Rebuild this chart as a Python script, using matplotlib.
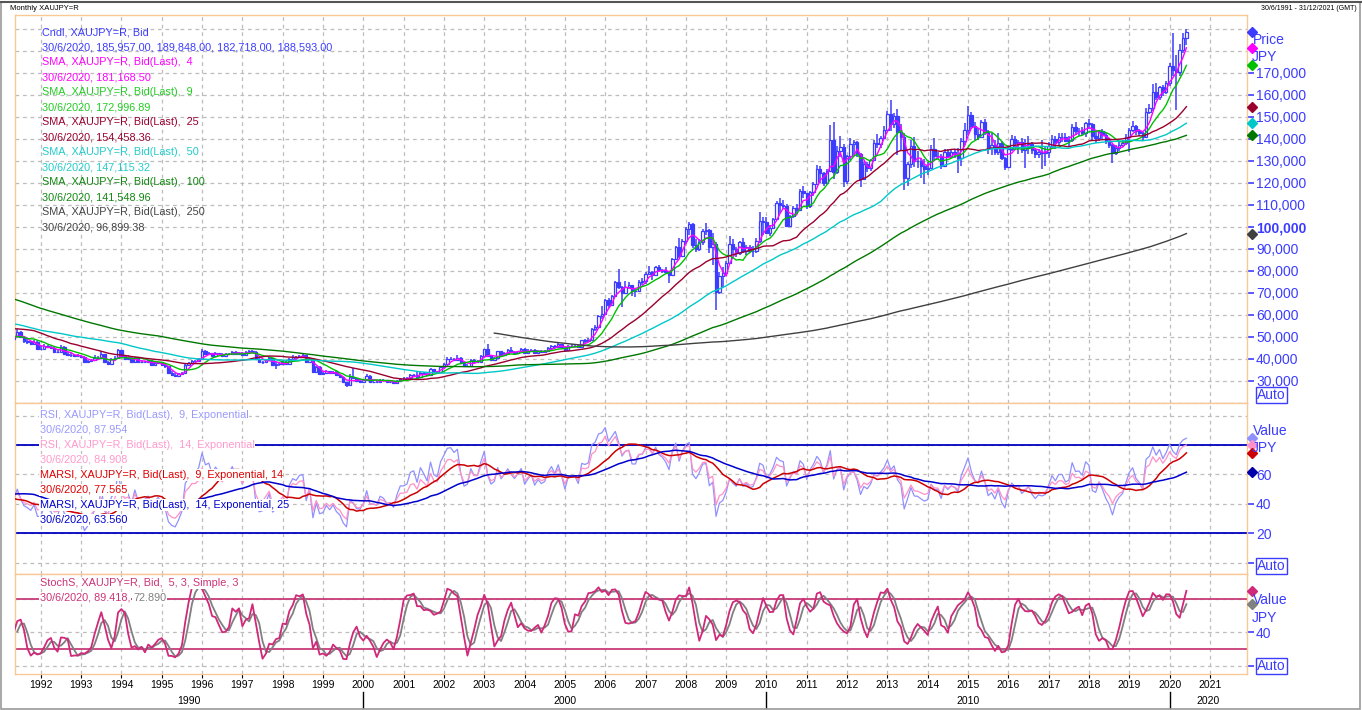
import numpy as np
import pandas as pd
import matplotlib
matplotlib.use("Agg")
import matplotlib.pyplot as plt
import matplotlib.transforms as mtransforms
from matplotlib.patches import Rectangle
from matplotlib.lines import Line2D

plt.rcParams['font.family'] = ['Liberation Sans', 'DejaVu Sans']

# monthly gold price in yen, thousands of JPY per oz (month end), Jul 1982 on
close_80s = [87.0, 106.0, 106.0, 115.0, 103.0, 105.0,
             115.0, 97.6, 99.0, 102.0, 105.0, 99.0, 102.0, 102.0, 95.6, 89.0, 95.0, 88.6,
             86.6, 92.0, 89.0, 85.0, 89.0, 89.0, 84.5, 84.0, 84.0, 82.0, 83.0, 77.6,
             77.5, 77.5, 83.0, 80.0, 79.0, 79.0, 77.5, 79.0, 70.5, 68.6, 65.7, 65.4,
             67.0, 61.0, 61.8, 58.0, 59.0, 56.6, 55.0, 59.7, 65.0, 65.0, 62.0, 62.6,
             62.0, 62.0, 61.3, 63.7, 65.0, 66.0, 69.0, 64.3, 67.0, 64.6, 65.4, 59.5,
             58.0, 54.5, 56.7, 56.0, 57.0, 57.7, 58.0, 58.8, 53.2, 51.5, 51.5, 51.3,
             51.2, 49.1, 51.0, 50.0, 52.0, 53.7, 50.6, 52.0, 51.0, 54.0, 58.3, 57.3,
             60.3, 61.2, 58.0, 58.4, 55.2, 53.5, 54.7, 55.7, 56.3, 49.0, 51.0, 52.0]
close_90s = [48.0, 48.3, 49.7, 49.0, 50.3, 52.0, 49.8, 48.0, 47.5, 46.8, 47.6, 44.6,
             44.6, 45.9, 45.3, 44.8, 43.1, 43.2, 45.3, 42.2, 41.9, 41.7, 41.3, 41.3,
             40.9, 38.4, 38.8, 39.4, 40.1, 40.1, 42.1, 38.7, 37.6, 39.9, 40.4, 43.8,
             41.1, 40.0, 40.3, 38.4, 40.6, 38.3, 38.4, 38.6, 39.0, 37.2, 37.9, 38.3,
             37.1, 36.5, 33.7, 32.7, 32.3, 32.9, 33.7, 37.2, 38.0, 39.1, 39.1, 39.9,
             43.3, 42.0, 42.4, 41.2, 42.5, 42.0, 41.2, 42.2, 42.1, 43.2, 42.3, 42.8,
             41.7, 43.0, 43.3, 43.2, 40.0, 38.4, 38.5, 39.3, 40.2, 37.3, 37.6, 37.7,
             38.5, 37.4, 40.0, 40.9, 40.7, 41.4, 41.5, 38.5, 40.0, 33.9, 36.2, 33.1,
             33.3, 34.4, 33.3, 34.0, 32.4, 31.6, 29.3, 27.9, 31.7, 31.1, 29.7, 29.6,
             30.3, 32.2, 29.6, 29.6, 29.4, 30.5, 30.2, 29.4, 29.5, 28.8, 30.0, 31.0]
close_00s = [31.0, 31.2, 32.5, 32.7, 31.8, 33.6, 33.1, 32.5, 35.2, 34.0, 33.8, 36.3,
             37.8, 39.8, 40.0, 39.6, 40.4, 38.2, 36.6, 36.9, 39.5, 38.7, 38.7, 41.3,
             44.2, 41.1, 39.6, 40.1, 43.3, 41.5, 42.6, 43.9, 43.1, 42.5, 43.4, 44.5,
             42.4, 43.3, 44.1, 42.7, 43.6, 43.1, 43.4, 44.8, 45.8, 45.1, 46.6, 45.5,
             43.9, 45.7, 45.8, 45.8, 45.1, 48.3, 48.2, 48.5, 53.4, 54.5, 59.5, 60.5,
             66.5, 64.5, 68.7, 74.7, 72.7, 69.9, 72.8, 73.5, 70.7, 70.7, 74.9, 75.2,
             78.7, 79.3, 78.2, 81.6, 80.4, 80.0, 79.3, 78.1, 85.4, 90.7, 86.9, 93.4,
             98.8, 101.1, 91.6, 89.9, 93.0, 98.2, 98.6, 90.6, 92.3, 70.4, 77.4, 78.8,
             83.5, 92.3, 89.9, 88.2, 93.0, 89.0, 90.7, 88.8, 89.1, 93.6, 102.8, 102.0,
             97.3, 99.3, 103.5, 110.9, 109.8, 109.5, 100.5, 104.7, 108.5, 107.7, 116.4, 115.1]
close_10s = [109.3, 115.6, 119.4, 126.0, 124.4, 120.0, 125.4, 139.6, 124.7, 134.3, 136.3, 120.6,
             132.1, 137.5, 138.5, 133.1, 121.8, 128.3, 126.5, 130.2, 138.2, 137.5, 140.5, 144.1,
             151.4, 146.8, 150.2, 143.2, 140.7, 122.2, 128.6, 136.8, 130.0, 129.7, 127.8, 126.2,
             126.9, 135.3, 132.3, 132.2, 127.5, 134.0, 132.0, 133.8, 133.1, 131.3, 138.9, 143.9,
             150.9, 145.6, 142.0, 140.8, 147.6, 143.0, 135.8, 137.3, 133.8, 138.2, 131.0, 127.3,
             135.3, 139.9, 138.1, 138.4, 134.9, 136.2, 137.8, 134.8, 132.9, 134.1, 133.7, 134.1,
             136.8, 139.9, 138.6, 140.7, 140.7, 139.1, 139.6, 145.2, 143.4, 143.6, 142.8, 147.2,
             146.6, 141.0, 140.5, 143.3, 141.5, 139.0, 137.1, 133.3, 135.9, 137.3, 138.1, 140.9,
             144.0, 145.7, 143.4, 142.5, 140.9, 152.2, 154.0, 161.1, 159.0, 163.4, 161.0, 165.4,
             173.2, 171.2, 170.3, 180.5, 185.957, 188.593]

# monthly highs / lows, Oct 1990 on
high_90s = [57.0, 52.0, 53.0,
            53.5, 50.0, 50.3, 50.4, 51.0, 53.3, 52.4, 50.2, 48.9, 48.2, 48.3, 47.9,
            46.0, 46.5, 46.3, 45.8, 45.2, 44.0, 46.2, 45.6, 43.0, 42.6, 42.3, 42.0,
            41.8, 41.2, 39.5, 40.0, 41.5, 41.3, 43.5, 42.3, 39.0, 40.5, 41.2, 44.2,
            44.0, 41.5, 41.0, 40.6, 40.9, 40.8, 39.2, 39.0, 39.5, 39.3, 38.4, 38.6,
            38.5, 37.4, 36.8, 34.2, 33.5, 33.3, 34.0, 37.5, 38.5, 39.5, 39.6, 40.2,
            44.2, 43.8, 42.9, 42.8, 43.0, 42.8, 42.4, 42.6, 42.7, 43.6, 43.5, 43.2,
            43.2, 43.5, 44.0, 43.8, 43.4, 40.3, 39.0, 39.8, 40.6, 40.5, 38.4, 38.3,
            39.2, 38.8, 40.3, 41.8, 41.4, 41.9, 42.0, 41.8, 40.5, 40.3, 36.8, 36.5,
            34.0, 34.9, 34.6, 34.5, 34.2, 32.6, 31.8, 29.6, 33.0, 35.6, 31.4, 30.3,
            30.6, 33.0, 32.5, 30.2, 30.0, 30.8, 30.7, 30.4, 29.9, 29.7, 30.3, 31.3]
low_90s = [48.5, 48.6, 50.5,
           47.0, 47.2, 47.8, 48.4, 48.6, 50.0, 49.4, 47.2, 46.6, 46.1, 46.3, 44.2,
           43.9, 44.2, 44.8, 44.2, 42.7, 42.5, 42.9, 41.8, 41.3, 41.0, 40.7, 40.8,
           40.3, 38.0, 37.9, 38.3, 39.0, 39.5, 39.8, 38.2, 37.0, 37.4, 39.3, 40.2,
           40.5, 39.6, 39.7, 38.0, 38.2, 38.0, 37.9, 38.0, 38.3, 37.0, 37.0, 37.6,
           36.8, 36.0, 33.2, 32.0, 31.6, 31.8, 32.6, 33.5, 36.8, 37.7, 38.6, 38.8,
           39.7, 41.6, 41.7, 40.8, 41.0, 41.7, 40.9, 41.0, 41.6, 41.8, 42.0, 41.9,
           41.2, 41.3, 42.5, 42.6, 39.7, 38.0, 37.8, 38.2, 39.0, 37.0, 35.2, 36.6,
           37.2, 37.0, 37.2, 39.7, 40.0, 40.2, 40.8, 38.2, 38.0, 33.5, 33.6, 32.8,
           32.6, 32.9, 33.0, 32.9, 32.1, 31.3, 29.0, 27.2, 27.8, 30.6, 29.4, 29.2,
           29.3, 29.9, 29.3, 29.2, 29.0, 29.2, 30.0, 29.2, 29.1, 28.6, 28.7, 29.8]
high_00s = [31.6, 31.7, 32.9, 33.2, 33.9, 33.9, 34.0, 33.4, 35.8, 35.5, 34.4, 36.6,
            38.1, 40.6, 40.9, 40.5, 41.5, 40.8, 38.6, 37.5, 40.0, 39.8, 39.2, 41.6,
            44.6, 46.6, 41.6, 40.6, 43.7, 43.6, 42.9, 44.2, 45.5, 43.6, 43.7, 44.8,
            45.0, 44.4, 44.6, 44.5, 43.9, 43.9, 43.8, 45.2, 46.2, 46.3, 47.3, 46.8,
            45.8, 46.1, 46.5, 46.5, 46.1, 48.6, 48.8, 49.3, 53.8, 55.5, 60.0, 64.0,
            67.3, 67.6, 69.0, 75.2, 80.6, 73.0, 75.5, 74.8, 73.6, 71.9, 75.8, 76.8,
            79.3, 82.1, 79.8, 82.0, 82.4, 81.0, 81.5, 79.6, 85.9, 91.3, 94.8, 94.2,
            99.8, 102.3, 101.6, 94.5, 94.4, 98.8, 101.5, 99.1, 97.0, 92.9, 79.5, 81.5,
            84.4, 95.8, 94.6, 91.0, 93.7, 94.8, 91.6, 91.5, 91.2, 95.0, 106.5, 104.6,
            104.2, 100.6, 104.1, 111.8, 113.2, 112.0, 110.2, 105.3, 109.2, 110.4, 117.3, 118.6]
low_00s = [30.5, 30.7, 30.9, 32.0, 31.5, 31.6, 32.8, 32.2, 32.3, 33.7, 33.4, 33.6,
           36.1, 37.6, 39.3, 39.2, 39.3, 38.0, 36.2, 36.2, 36.7, 38.5, 38.3, 38.5,
           41.0, 40.8, 39.2, 39.2, 39.9, 41.2, 41.2, 42.3, 42.8, 42.2, 42.0, 43.1,
           42.0, 42.0, 43.0, 42.2, 42.4, 42.8, 42.7, 43.1, 44.4, 44.8, 44.9, 45.1,
           43.6, 43.6, 45.1, 45.2, 44.8, 45.0, 47.2, 47.7, 48.2, 52.5, 54.2, 58.2,
           60.2, 63.2, 63.8, 68.4, 71.5, 63.5, 69.5, 71.7, 68.6, 67.9, 70.3, 73.4,
           73.9, 78.0, 75.8, 77.9, 79.4, 78.8, 78.9, 74.5, 77.7, 84.9, 85.7, 86.4,
           92.3, 96.2, 90.4, 88.6, 88.9, 91.7, 96.3, 87.9, 82.8, 62.0, 69.6, 72.6,
           77.5, 82.9, 87.2, 86.1, 87.2, 88.1, 87.3, 88.0, 86.3, 88.2, 92.5, 96.4,
           96.6, 95.6, 98.9, 103.0, 106.3, 108.2, 99.8, 100.1, 104.0, 105.6, 107.0, 113.2]
high_10s = [115.5, 116.1, 120.4, 128.0, 127.4, 125.0, 126.4, 146.0, 147.6, 136.8, 141.2, 137.5,
            132.6, 140.5, 139.4, 139.0, 133.6, 129.5, 129.6, 130.8, 139.5, 142.0, 141.3, 145.7,
            152.8, 157.6, 151.6, 153.5, 146.5, 142.5, 129.5, 139.5, 140.6, 134.5, 131.2, 130.8,
            129.5, 137.0, 140.5, 134.0, 133.0, 135.1, 135.5, 135.0, 135.2, 135.6, 140.2, 147.2,
            154.8, 152.0, 147.4, 145.0, 148.3, 148.8, 144.0, 142.5, 139.5, 142.5, 138.8, 131.7,
            136.0, 141.8, 141.0, 139.6, 140.2, 140.0, 141.0, 138.3, 135.6, 135.2, 139.4, 136.5,
            138.5, 141.6, 141.2, 142.5, 142.8, 142.8, 141.4, 146.5, 147.6, 145.0, 145.2, 147.6,
            149.0, 147.3, 143.2, 144.0, 144.2, 142.5, 140.1, 137.6, 137.0, 139.0, 139.2, 142.0,
            144.8, 148.0, 146.1, 144.2, 143.2, 153.8, 155.9, 165.0, 165.4, 164.0, 164.2, 166.0,
            174.6, 188.0, 178.0, 183.0, 188.0, 189.848]
low_10s = [108.0, 108.7, 113.8, 118.8, 119.8, 118.5, 119.6, 124.8, 121.6, 124.0, 131.8, 117.9,
           119.5, 130.4, 132.0, 131.6, 118.0, 121.2, 124.9, 125.5, 129.8, 135.6, 135.7, 139.7,
           143.6, 143.3, 145.0, 132.8, 134.3, 116.6, 118.5, 126.5, 127.3, 126.6, 122.3, 119.2,
           123.7, 126.3, 130.5, 130.6, 126.1, 127.0, 131.0, 131.2, 131.4, 124.5, 127.4, 137.2,
           141.9, 144.2, 139.6, 139.3, 140.2, 141.6, 133.2, 132.6, 132.7, 132.5, 130.2, 125.6,
           126.8, 134.4, 135.6, 133.2, 133.7, 126.5, 133.2, 133.0, 131.0, 131.4, 126.4, 127.7,
           131.2, 136.0, 135.4, 136.6, 138.6, 138.5, 136.6, 138.3, 141.8, 141.3, 141.6, 140.6,
           144.5, 138.9, 138.2, 139.0, 140.0, 137.7, 135.7, 128.8, 132.6, 134.5, 136.0, 137.0,
           133.9, 143.2, 141.6, 141.0, 139.6, 140.3, 151.0, 152.8, 157.7, 157.8, 159.5, 160.5,
           163.8, 168.5, 153.0, 168.6, 178.8, 182.718]

sma_periods = [4, 9, 25, 50, 100, 250]
sma_colors = ['#ff00ff', '#00c000', '#99002e', '#00c8c8', '#007800', '#404040']

main_legend = [
    ("Cndl, XAUJPY=R, Bid", '#3c3cff'),
    ("30/6/2020, 185,957.00, 189,848.00, 182,718.00, 188,593.00", '#3c3cff'),
    ("SMA, XAUJPY=R, Bid(Last),  4", '#ff00ff'), ("30/6/2020, 181,168.50", '#ff00ff'),
    ("SMA, XAUJPY=R, Bid(Last),  9", '#22cc22'), ("30/6/2020, 172,996.89", '#22cc22'),
    ("SMA, XAUJPY=R, Bid(Last),  25", '#99002e'), ("30/6/2020, 154,458.36", '#99002e'),
    ("SMA, XAUJPY=R, Bid(Last),  50", '#22cccc'), ("30/6/2020, 147,115.32", '#22cccc'),
    ("SMA, XAUJPY=R, Bid(Last),  100", '#118811'), ("30/6/2020, 141,548.96", '#118811'),
    ("SMA, XAUJPY=R, Bid(Last),  250", '#444444'), ("30/6/2020, 96,899.38", '#444444'),
]
rsi_legend = [
    ("RSI, XAUJPY=R, Bid(Last),  9, Exponential", '#9999ff'), ("30/6/2020, 87.954", '#9999ff'),
    ("RSI, XAUJPY=R, Bid(Last),  14, Exponential", '#ff99cc'), ("30/6/2020, 84.908", '#ff99cc'),
    ("MARSI, XAUJPY=R, Bid(Last),  9, Exponential, 14", '#dd0000'), ("30/6/2020, 77.565", '#dd0000'),
    ("MARSI, XAUJPY=R, Bid(Last),  14, Exponential, 25", '#0000cc'), ("30/6/2020, 63.560", '#0000cc'),
]

years = list(range(1992, 2022))
decades = [("1990", 1995.68), ("2000", 2005.0), ("2010", 2015.0), ("2020", 2020.96)]

BLUE = '#3c3cff'
ORANGE = '#f8c898'
GRID = '#bdbdbd'

# ---- series ----
close = np.array(close_80s + close_90s + close_00s + close_10s) * 1000
n = len(close)
t = 1982.5 + np.arange(n) / 12.0
hl_start = n - len(high_90s + high_00s + high_10s)
high = np.full(n, np.nan)
low = np.full(n, np.nan)
high[hl_start:] = np.array(high_90s + high_00s + high_10s) * 1000
low[hl_start:] = np.array(low_90s + low_00s + low_10s) * 1000

s = pd.Series(close)
smas = [s.rolling(p).mean() for p in sma_periods]


def rsi(series, p):
    d = series.diff()
    up = d.clip(lower=0).ewm(alpha=1.0 / p, adjust=False).mean()
    dn = (-d.clip(upper=0)).ewm(alpha=1.0 / p, adjust=False).mean()
    return 100 - 100 / (1 + up / dn)


rsi9 = rsi(s, 9)
rsi14 = rsi(s, 14)
marsi9 = rsi9.rolling(14).mean()
marsi14 = rsi14.rolling(25).mean()

hh = pd.Series(high).rolling(5).max()
ll = pd.Series(low).rolling(5).min()
fast_k = (s - ll) / (hh - ll) * 100
slow_k = fast_k.rolling(3).mean()
slow_d = slow_k.rolling(3).mean()

# ---- figure ----
W, H = 1362, 710
fig = plt.figure(figsize=(W / 100, H / 100), dpi=100)


def box(top, bottom):
    return [15 / W, 1 - bottom / H, 1232 / W, (bottom - top) / H]


def fxy(px, py):
    return px / W, 1 - py / H


ax_p = fig.add_axes(box(15, 403))
ax_r = fig.add_axes(box(403, 574), sharex=ax_p)
ax_s = fig.add_axes(box(574, 674), sharex=ax_p)

for ax in (ax_p, ax_r, ax_s):
    for sp in ax.spines.values():
        sp.set_color(ORANGE)
        sp.set_linewidth(1)
    ax.yaxis.tick_right()
    ax.tick_params(axis='y', which='major', colors=BLUE, length=5, width=1.2, pad=1.5, labelsize=10)
    ax.tick_params(axis='y', which='minor', length=0)
    ax.set_xticks(years)
    ax.grid(True, which='both', color=GRID, linestyle=(0, (3, 3)), linewidth=0.9)
    ax.set_axisbelow(True)
ax_p.set_xlim(1991.36, 2021.92)
for ax in (ax_p, ax_r):
    ax.tick_params(axis='x', length=0, labelbottom=False)

# price panel
ax_p.set_ylim(19864, 196227)
ticks_p = list(range(30000, 180000, 10000))
ax_p.set_yticks(ticks_p)
ax_p.set_yticklabels([f"{v:,}" for v in ticks_p])
ax_p.set_yticks([20000, 180000, 190000], minor=True)
for lab in ax_p.get_yticklabels():
    if lab.get_text() == "100,000":
        lab.set_fontweight('bold')

ci = np.arange(hl_start, n)
o = close[ci - 1]
c = close[ci]
up = c >= o
ax_p.vlines(t[ci], low[ci], high[ci], color=BLUE, linewidth=1.1, zorder=2)
ax_p.bar(t[ci][up], (c - o)[up], bottom=o[up], width=0.06, facecolor='white',
         edgecolor=BLUE, linewidth=0.9, zorder=3)
ax_p.bar(t[ci][~up], (o - c)[~up], bottom=c[~up], width=0.06, facecolor=BLUE,
         edgecolor=BLUE, linewidth=0.9, zorder=3)
for ser, col in zip(smas, sma_colors):
    ax_p.plot(t, ser, color=col, linewidth=1.0, zorder=4)

# rsi panel
ax_r.set_ylim(-7.7, 108.6)
ax_r.set_yticks([0, 20, 40, 60])
ax_r.set_yticklabels(['', '20', '40', '60'])
ax_r.set_yticks([80, 100], minor=True)
ax_r.axhline(80, color='#0000c0', linewidth=1.3, zorder=2)
ax_r.axhline(20, color='#0000c0', linewidth=1.3, zorder=2)
ax_r.plot(t, rsi9, color='#9090ff', linewidth=0.9, zorder=3)
ax_r.plot(t, rsi14, color='#ff90c8', linewidth=0.9, zorder=3)
ax_r.plot(t, marsi9, color='#cc0000', linewidth=1.1, zorder=4)
ax_r.plot(t, marsi14, color='#0000cc', linewidth=1.1, zorder=4)

# stochastic panel
ax_s.set_ylim(-10, 110)
ax_s.set_yticks([0, 40])
ax_s.set_yticklabels(['', '40'])
ax_s.set_yticks([80], minor=True)
ax_s.axhline(80, color='#c83c78', linewidth=1.3, zorder=2)
ax_s.axhline(20, color='#c83c78', linewidth=1.3, zorder=2)
ax_s.plot(t, slow_d, color='#808080', linewidth=1.3, zorder=3)
ax_s.plot(t, slow_k, color='#d0287a', linewidth=1.3, zorder=4)
ax_s.set_xticklabels([str(y) for y in years])
ax_s.tick_params(axis='x', length=3, width=0.8, color='black', pad=1.5, labelsize=7.5)

# decade row under the years
bt = mtransforms.blended_transform_factory(ax_s.transData, ax_s.transAxes)
for lab, xd in decades:
    ax_s.text(xd, -0.27, lab, transform=bt, ha='center', va='center', fontsize=7.5)
for xd in (2000, 2010, 2020):
    ax_s.plot([xd, xd], [-0.18, -0.34], transform=bt, color='black', linewidth=1, clip_on=False)

# last-value diamonds on the right edge
def diamonds(ax, vals, cols):
    tr = mtransforms.blended_transform_factory(ax.transAxes, ax.transData)
    for v, col in zip(vals, cols):
        ax.plot([1.0041], [v], marker='D', markersize=5, color=col, transform=tr,
                clip_on=False, zorder=6)


diamonds(ax_p, [close[-1]] + [ser.iloc[-1] for ser in smas], [BLUE] + sma_colors)
diamonds(ax_r, [rsi9.iloc[-1], rsi14.iloc[-1], marsi9.iloc[-1], marsi14.iloc[-1]],
         ['#9090ff', '#ff90c8', '#cc0000', '#0000aa'])
diamonds(ax_s, [slow_k.iloc[-1], slow_d.iloc[-1]], ['#d0287a', '#808080'])

# right side captions
for txt, px, py in [("Price", 1253, 40), ("JPY", 1252, 57), ("Value", 1253, 431),
                    ("JPY", 1252, 448), ("Value", 1253, 600), ("JPY", 1252, 618)]:
    fig.text(*fxy(px, py), txt, color=BLUE, fontsize=10, va='center', ha='left')
for py in (395, 566, 666):
    fig.text(*fxy(1257, py), "Auto", color=BLUE, fontsize=10, va='center', ha='left',
             bbox=dict(facecolor='white', edgecolor=BLUE, pad=1.0, linewidth=1))

# legends
for i, (txt, col) in enumerate(main_legend):
    fig.text(*fxy(42.5, 32.3 + 15 * i), txt, color=col, fontsize=7.8, va='center')
for i, (txt, col) in enumerate(rsi_legend):
    fig.text(*fxy(39.5, 415 + 15 * i), txt, color=col, fontsize=7.8, va='center',
             bbox=dict(facecolor='white', edgecolor='none', pad=0.5), zorder=5)
fig.text(*fxy(39.5, 583), "StochS, XAUJPY=R, Bid,  5, 3, Simple, 3", color='#cc3377',
         fontsize=7.8, va='center', bbox=dict(facecolor='white', edgecolor='none', pad=0.5), zorder=5)
st2 = fig.text(*fxy(39.5, 598), "30/6/2020, 89.418,", color='#cc3377', fontsize=7.8,
               va='center', bbox=dict(facecolor='white', edgecolor='none', pad=0.5), zorder=5)
fig.canvas.draw()
ext = st2.get_window_extent()
fig.text((ext.x1 + 3) / W, 1 - 598 / H, "72.890", color='#808080', fontsize=7.8, va='center',
         bbox=dict(facecolor='white', edgecolor='none', pad=0.5), zorder=5)

# header and outer frame
fig.text(*fxy(10, 8), "Monthly XAUJPY=R", fontsize=5.5, va='center')
fig.text(*fxy(1357, 8), "30/6/1991 - 31/12/2021 (GMT)", fontsize=5, va='center', ha='right')
fig.add_artist(Rectangle((1 / W, 1.5 / H), (W - 3) / W, (H - 3) / H, transform=fig.transFigure,
                         fill=False, edgecolor='#9a9a9a', linewidth=1.2))
fig.add_artist(Line2D([0, 1], [1 - 2 / H, 1 - 2 / H], color='#555555', linewidth=1.5))

fig.savefig("out.png", dpi=100)
